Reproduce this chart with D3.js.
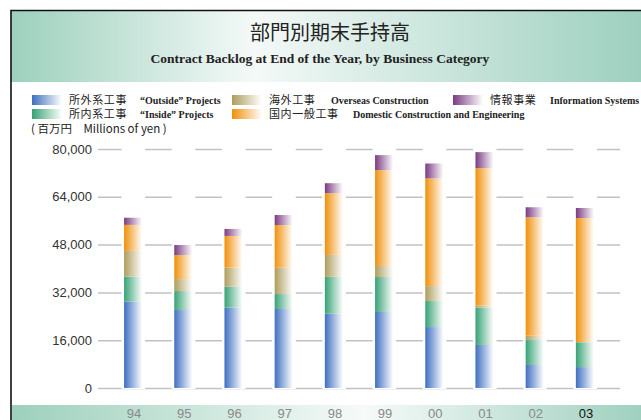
<!DOCTYPE html>
<html>
<head>
<meta charset="utf-8">
<script src="https://cdn.jsdelivr.net/npm/d3@7"></script>
<style>
  body { margin: 0; background: #fff; }
  svg { display: block; }
</style>
</head>
<body>
<div class="grafico"></div>
<script>
// data (millions of yen)
const years    = ["94", "95", "96", "97", "98", "99", "00", "01", "02", "03"];
const outside  = [28900, 26100, 26900, 26450, 24900, 25450, 20400, 14400, 7700, 7000];
const inside   = [8400, 6350, 7000, 5000, 12300, 11700, 8700, 12500, 8350, 8300];
const overseas = [8600, 4000, 6400, 8800, 7350, 3700, 5000, 700, 1450, 100];
const domestic = [8700, 8050, 10600, 14300, 20650, 32100, 36050, 46000, 39650, 41500];
const infoSys  = [2400, 3350, 2350, 3350, 3350, 5000, 5000, 5350, 3350, 3350];
const yTicks   = [0, 16000, 32000, 48000, 64000, 80000];

const series = [
  { key: "outside",  color: "#3f6fc0", jp: "所外系工事",   en: "“Outside” Projects" },
  { key: "inside",   color: "#37a276", jp: "所内系工事",   en: "“Inside” Projects" },
  { key: "overseas", color: "#ad9d5c", jp: "海外工事",     en: "Overseas Construction" },
  { key: "domestic", color: "#f0900a", jp: "国内一般工事", en: "Domestic Construction and Engineering" },
  { key: "info",     color: "#7b3b82", jp: "情報事業",     en: "Information Systems" }
];

var width = 641, height = 420;
var rows = years.map((yr, i) => ({
  year: yr, outside: outside[i], inside: inside[i], overseas: overseas[i],
  domestic: domestic[i], info: infoSys[i]
}));

var svg = d3.select(".grafico").append("svg")
  .attr("width", width).attr("height", height);
var defs = svg.append("defs");

// gradients
series.forEach(s => {
  var g = defs.append("linearGradient").attr("id", "g-" + s.key)
    .attr("x1", "0%").attr("x2", "100%").attr("y1", "0%").attr("y2", "0%");
  g.append("stop").attr("offset", "0%").attr("stop-color", s.color);
  g.append("stop").attr("offset", "100%").attr("stop-color", "#fff");
});
var band = defs.append("linearGradient").attr("id", "band")
  .attr("x1", "0%").attr("x2", "100%");
band.append("stop").attr("offset", "0%").attr("stop-color", "#9dd0bd");
band.append("stop").attr("offset", "38%").attr("stop-color", "#f4f9f7");
band.append("stop").attr("offset", "100%").attr("stop-color", "#9ccfbd");
var band2 = defs.append("linearGradient").attr("id", "band2")
  .attr("x1", "0%").attr("x2", "100%");
band2.append("stop").attr("offset", "0%").attr("stop-color", "#9dd0bd");
band2.append("stop").attr("offset", "55%").attr("stop-color", "#f6faf8");
band2.append("stop").attr("offset", "100%").attr("stop-color", "#9ccfbd");

// frame + title band
svg.append("rect").attr("x", 11).attr("y", 11).attr("width", 640).attr("height", 71)
  .attr("fill", "url(#band)");
svg.append("rect").attr("x", 12).attr("y", 405).attr("width", 640).attr("height", 16)
  .attr("fill", "url(#band2)");
svg.append("path").attr("d", "M11,430 V10.5 H650")
  .attr("fill", "none").attr("stroke", "#111").attr("stroke-width", 1.6);

svg.append("text").attr("x", 330).attr("y", 40).attr("text-anchor", "middle")
  .style("font-family", "'Noto Sans CJK JP'").style("font-size", "20px")
  .attr("fill", "#222").text("部門別期末手持高");
svg.append("text").attr("x", 320).attr("y", 63).attr("text-anchor", "middle")
  .style("font-family", "'Liberation Serif'").style("font-weight", "bold")
  .style("font-size", "13.5px").attr("fill", "#222")
  .text("Contract Backlog at End of the Year, by Business Category");

// legend
var legendPos = [
  { key: "outside",  x: 32,  y: 95 },
  { key: "overseas", x: 232, y: 95 },
  { key: "info",     x: 453, y: 95 },
  { key: "inside",   x: 32,  y: 109 },
  { key: "domestic", x: 232, y: 109 }
];
var enX = { outside: 140, inside: 140, overseas: 331, domestic: 353, info: 550 };
legendPos.forEach(p => {
  var s = series.find(d => d.key === p.key);
  var lg = svg.append("g");
  lg.append("rect").attr("x", p.x).attr("y", p.y).attr("width", 30).attr("height", 10)
    .attr("fill", "url(#g-" + s.key + ")");
  lg.append("text").attr("x", p.x + 37).attr("y", p.y + 9)
    .style("font-family", "'Noto Sans CJK JP'").style("font-size", "11px")
    .style("letter-spacing", "0.6px").attr("fill", "#222").text(s.jp);
  lg.append("text").attr("x", enX[s.key]).attr("y", p.y + 9)
    .style("font-family", "'Liberation Serif'").style("font-weight", "bold")
    .style("font-size", "10px").attr("fill", "#222").text(s.en);
});

svg.append("text").attr("x", 31).attr("y", 133)
  .style("font-family", "'Noto Sans CJK JP'").style("font-size", "11.5px")
  .attr("fill", "#222").text("( 百万円　Millions of yen )");

// scales
var x = d3.scaleBand().domain(years).range([108, 610]).paddingInner(0.64).paddingOuter(0.32);
var y = d3.scaleLinear().domain([0, 80000]).range([388, 149]);

var gAxis = svg.append("g").attr("transform", "translate(98,0)")
  .call(d3.axisLeft(y).tickValues(yTicks).tickSize(-522).tickPadding(6)
    .tickFormat(d3.format(",")));
gAxis.select(".domain").remove();
gAxis.selectAll("line").attr("stroke", "#c2c2c2").attr("stroke-width", 1.5);
gAxis.selectAll("text").style("font-family", "'Liberation Sans'")
  .style("font-size", "13px").attr("fill", "#333");

// white masks around bars
svg.selectAll(".mask").data(rows).enter().append("rect")
  .attr("class", "mask")
  .attr("x", d => x(d.year) - 2.5)
  .attr("width", x.bandwidth() + 5.5)
  .attr("y", y(80000) - 5)
  .attr("height", y(0) - y(80000) + 6)
  .attr("fill", "#fff");

// stacked bars
var stack = d3.stack().keys(series.map(s => s.key));
var layers = stack(rows);
svg.selectAll(".layer").data(layers).enter().append("g")
  .attr("class", "layer")
  .attr("fill", d => "url(#g-" + d.key + ")")
  .selectAll("rect").data(d => d).enter().append("rect")
  .attr("x", d => x(d.data.year))
  .attr("width", x.bandwidth())
  .attr("y", d => y(d[1]))
  .attr("height", d => y(d[0]) - y(d[1]));

// x labels
svg.selectAll(".xlab").data(years).enter().append("text")
  .attr("class", "xlab")
  .attr("x", d => x(d) + x.bandwidth() / 2 + 1)
  .attr("y", 418)
  .attr("text-anchor", "middle")
  .style("font-family", "'Liberation Sans'").style("font-size", "13px")
  .attr("fill", d => d === "03" ? "#111" : "#8a8a8a")
  .text(d => d);
</script>
</body>
</html>
